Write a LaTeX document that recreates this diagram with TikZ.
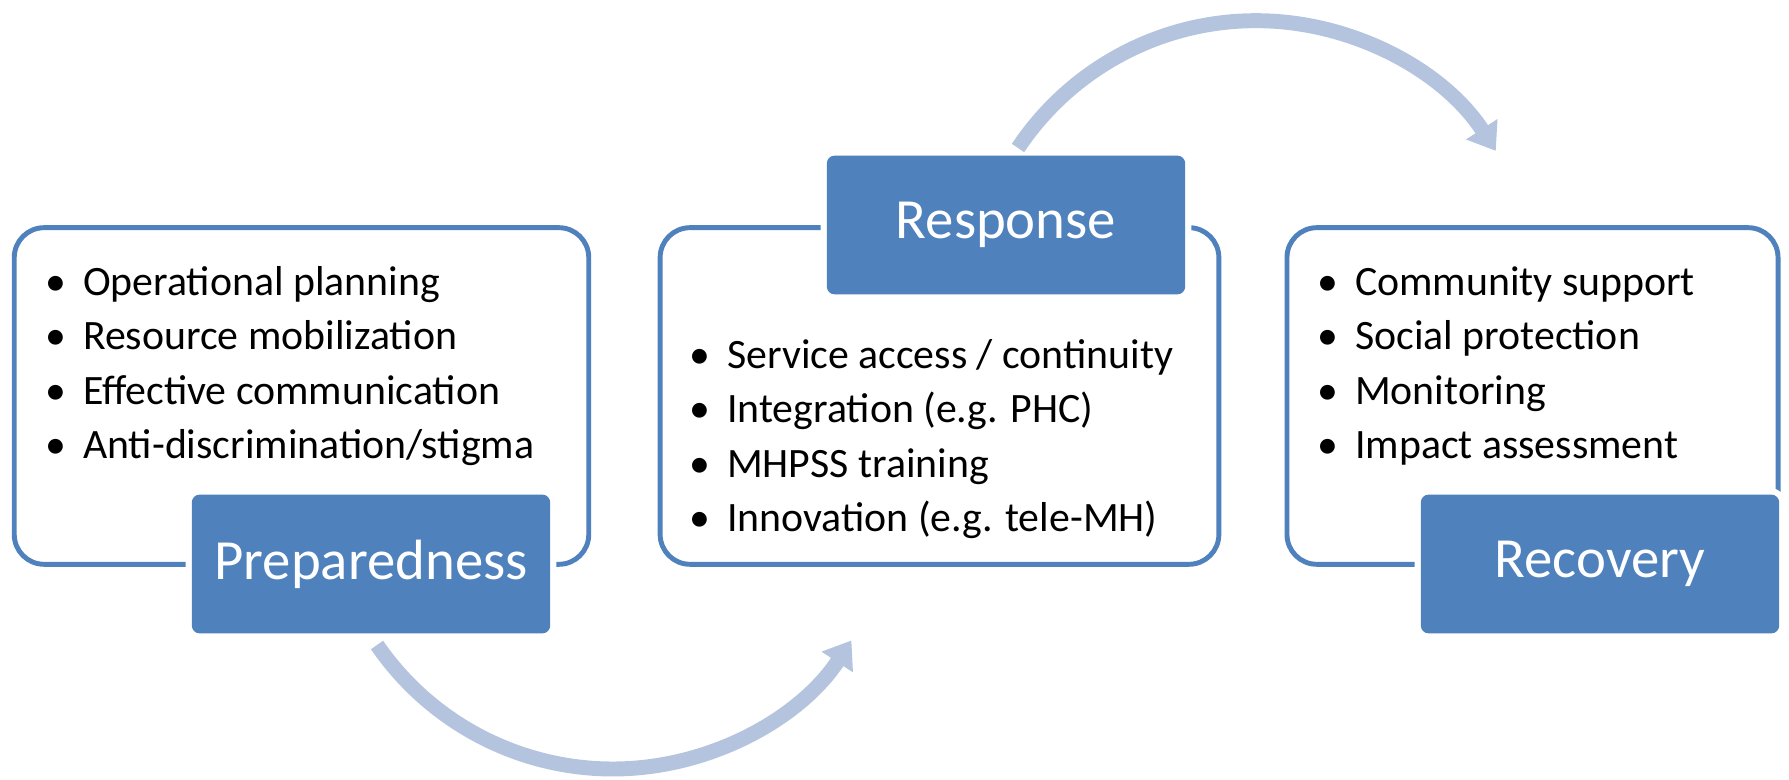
\documentclass[tikz,border=0pt]{standalone}
\usepackage{fontspec}
\setmainfont{Carlito}
\usetikzlibrary{arrows.meta}
\definecolor{phaseblue}{RGB}{79,129,189}
\definecolor{loopblue}{RGB}{180,196,222}
\begin{document}
\begin{tikzpicture}[x=0.02cm,y=0.02cm]


\tikzstyle{panel}=[shape=rectangle, rounded corners=17pt,
    draw=phaseblue, line width=2.8pt, fill=white]
\tikzstyle{phase}=[shape=rectangle, rounded corners=4.5pt,
    fill=phaseblue, text=white, align=center, inner sep=0pt,
    minimum width=204pt, minimum height=79pt,
    preaction={draw=white, line width=7pt},
    font=\fontsize{32.3}{38}\selectfont]
\tikzstyle{items}=[anchor=west, align=left, inner sep=0pt,
    font=\fontsize{23.8}{30.9}\selectfont]
\tikzstyle{cyclearrow}=[draw=loopblue, line width=8.5pt,
    -{Triangle[width=20.4pt,length=14.7pt]}]

  \useasboundingbox (0,0) rectangle (1789,780);

  % preparedness
  \node[panel, minimum width=327pt, minimum height=191.6pt] (prepbox) at (301.5,384) {};
  \node[items] (preplist) at (45,414) {\makebox[21.5pt][l]{\textbullet}Operational planning\\
    \makebox[21.5pt][l]{\textbullet}Resource mobilization\\
    \makebox[21.5pt][l]{\textbullet}Effective communication\\
    \makebox[21.5pt][l]{\textbullet}Anti-discrimination/stigma};
  % response
  \node[panel, minimum width=318pt, minimum height=191.6pt] (respbox) at (939.5,384) {};
  \node[items] (resplist) at (689,341) {\makebox[21.5pt][l]{\textbullet}Service access / continuity\\
    \makebox[21.5pt][l]{\textbullet}Integration (e.g. PHC)\\
    \makebox[21.5pt][l]{\textbullet}MHPSS training\\
    \makebox[21.5pt][l]{\textbullet}Innovation (e.g. tele-MH)};
  % recovery
  \node[panel, minimum width=279.5pt, minimum height=191.6pt] (recovbox) at (1532.5,384) {};
  \node[items] (recovlist) at (1317,414) {\makebox[21.5pt][l]{\textbullet}Community support\\
    \makebox[21.5pt][l]{\textbullet}Social protection\\
    \makebox[21.5pt][l]{\textbullet}Monitoring\\
    \makebox[21.5pt][l]{\textbullet}Impact assessment};

  \node[phase] (prep) at (371,216) {Preparedness};
  \node[phase] (resp) at (1006,555) {Response};
  \node[phase] (recov) at (1600,216) {Recovery};

  % arrows between phases
  \coordinate (upstart) at (1018,632);
  \coordinate (downstart) at (377,135);
  \draw[cyclearrow] (upstart) arc[start angle=146.3, end angle=33, radius=286];
  \draw[cyclearrow] (downstart) arc[start angle=214.5, end angle=326.6, radius=286];


\end{tikzpicture}
\end{document}
